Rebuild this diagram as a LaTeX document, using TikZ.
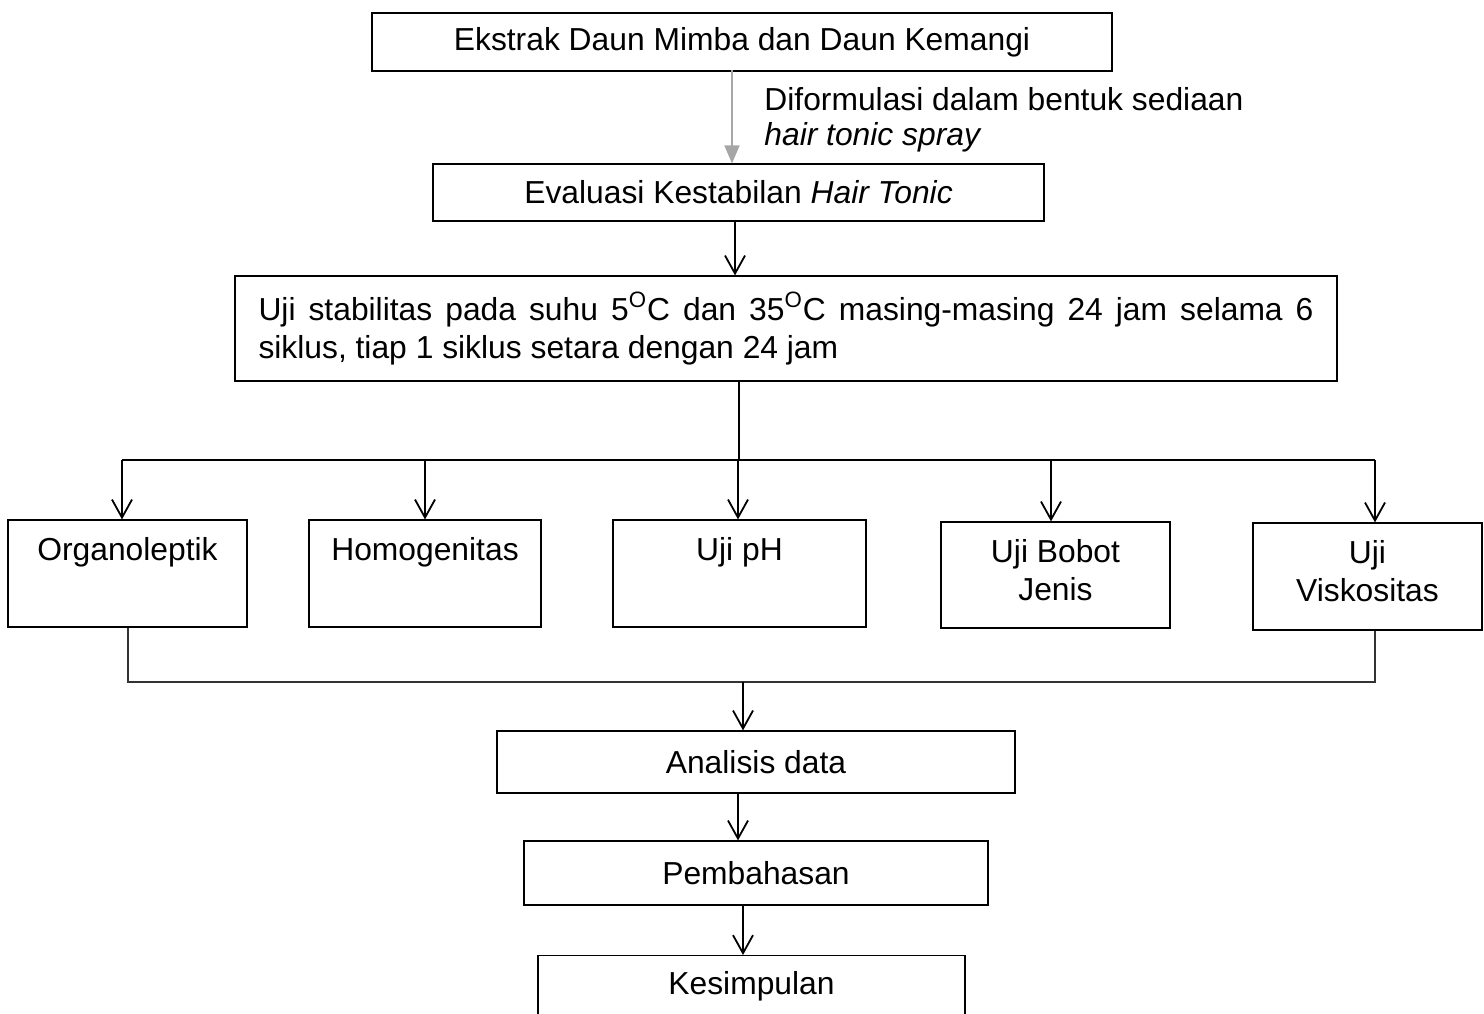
\documentclass[tikz,border=0pt]{standalone}
\usepackage{fontspec}
\setmainfont{Liberation Sans}
\usetikzlibrary{arrows.meta}
\begin{document}
\begin{tikzpicture}[x=0.5pt,y=-0.5pt,
  font=\fontsize{15.9}{19}\selectfont,
  box/.style={draw, line width=0.6pt, inner sep=0pt},
  arr/.style={line width=0.9pt, -{Straight Barb[length=9pt,width=10pt,line width=0.9pt]}},
  garr/.style={line width=0.9pt, draw=black!35, -{Triangle[length=9pt,width=7.5pt,fill=black!35]}},
  link/.style={line width=0.7pt, draw=black!80}]
\clip (0,0) rectangle (1484,1013);
\useasboundingbox (0,0) rectangle (1484,1013);
\newcommand\topbox[3]{\parbox[c][#1][t]{#2}{\centering\rule{0pt}{20pt}#3}}

\node[box, minimum width=370pt, minimum height=29pt] (ext) at (742,42) {Ekstrak Daun Mimba dan Daun Kemangi};
\node[box, minimum width=305.5pt, minimum height=28.5pt] (eva) at (738.5,192.5) {Evaluasi Kestabilan \textit{Hair Tonic}};
\node[box, minimum width=551pt, minimum height=52.5pt] (uji) at (786,328.5)
  {\parbox{527.5pt}{Uji stabilitas pada suhu 5\textsuperscript{O}C dan 35\textsuperscript{O}C masing-masing 24 jam selama 6\linebreak siklus, tiap 1 siklus setara dengan 24 jam}};

\node[box] (org) at (127.5,573.5) {\topbox{53.5pt}{119.5pt}{Organoleptik}};
\node[box] (hom) at (425,573.5) {\topbox{53.5pt}{116pt}{Homogenitas}};
\node[box] (ph) at (739.5,573.5) {\topbox{53.5pt}{126.5pt}{Uji pH}};
\node[box] (bob) at (1055.5,575) {\topbox{53pt}{114.5pt}{Uji Bobot\\Jenis}};
\node[box] (vis) at (1367.5,576.5) {\topbox{53.5pt}{114.5pt}{Uji\\Viskositas}};

\node[box, minimum width=259pt, minimum height=31pt] (ana) at (756,762) {Analisis data};
\node[box, minimum width=232pt, minimum height=32pt] (pem) at (756,873) {Pembahasan};
\node[box, minimum width=213.5pt, minimum height=32pt, anchor=north] (kes) at (751.5,955) {};
\node (kestext) at (751.5,986) {Kesimpulan};

% grey arrow with label
\coordinate (g) at (732,70);
\draw[garr] (g) -- (g |- eva.north);
\node[anchor=west, align=left, inner sep=0pt, font=\fontsize{15.9}{17.5}\selectfont] (lab) at (764,120)
  {Diformulasi dalam bentuk sediaan\\\textit{hair tonic spray}};

% eva -> uji
\coordinate (e) at (735,221);
\draw[arr] (e) -- (e |- uji.north);

% branching
\coordinate (s) at (739,381);
\coordinate (h) at (739,460);
\draw[line width=0.7pt] (s) -- (h);
\coordinate (b1) at (122,460);
\coordinate (b2) at (425,460);
\coordinate (b3) at (738,460);
\coordinate (b4) at (1051,460);
\coordinate (b5) at (1375,460);
\draw[line width=0.9pt] (b1) -- (b5);
\draw[arr] (b1) -- (b1 |- org.north);
\draw[arr] (b2) -- (b2 |- hom.north);
\draw[arr] (b3) -- (b3 |- ph.north);
\draw[arr] (b4) -- (b4 |- bob.north);
\draw[arr] (b5) -- (b5 |- vis.north);

% merging
\coordinate (m1) at (128,682);
\coordinate (m2) at (1375,682);
\draw[link] (m1 |- org.south) -- (m1) -- (m2) -- (m2 |- vis.south);
\coordinate (j) at (743,682);
\draw[arr] (j) -- (j |- ana.north);

\coordinate (a1) at (738,793);
\draw[arr] (a1) -- (a1 |- pem.north);
\coordinate (p1) at (743,905);
\draw[arr] (p1) -- (p1 |- kes.north);
\end{tikzpicture}
\end{document}
